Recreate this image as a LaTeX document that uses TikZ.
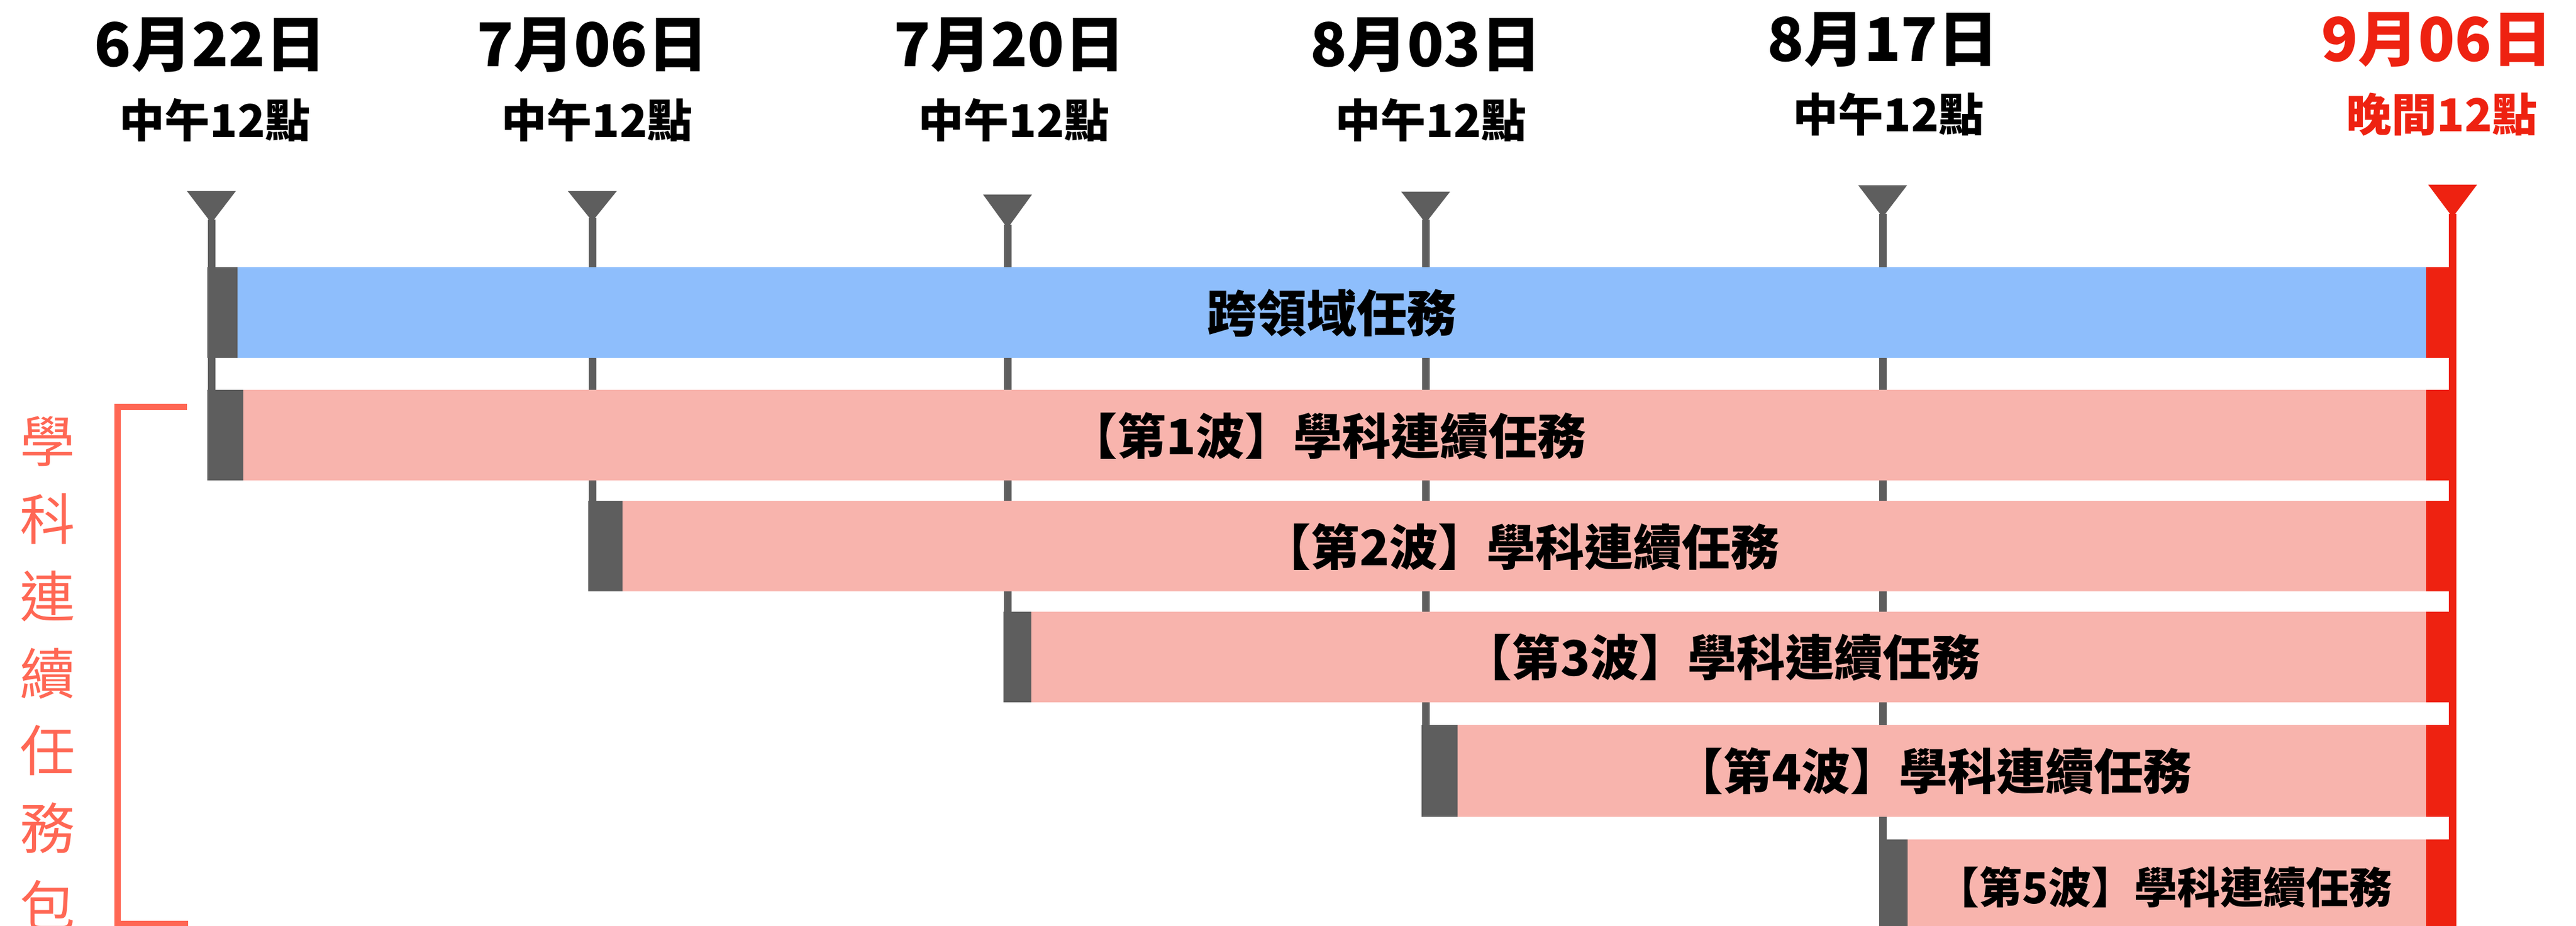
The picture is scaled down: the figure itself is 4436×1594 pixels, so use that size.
\documentclass[tikz,border=0pt]{standalone}
\usepackage{fontspec}
\newfontfamily\cjk{Noto Sans CJK TC}
\definecolor{grayc}{HTML}{5E5E5E}
\definecolor{bluec}{HTML}{8EBEFC}
\definecolor{pinkc}{HTML}{F8B4AD}
\definecolor{redc}{HTML}{EE2211}
\definecolor{coralc}{HTML}{FF6754}
\newcommand\fsz[1]{\fontsize{#1pt}{#1pt}\selectfont}
% tick: center x, triangle top, apex, line end, colour
\newcommand\mytick[5]{%
  \fill[#5] ({#1-42},#2) -- ({#1+42},#2) -- (#1,{#3+4}) -- cycle;
  \fill[#5] ({#1-6.5},{#3-2}) rectangle ({#1+6.5},#4);}
% bar: start x, dark end x, top y, bottom y, fill colour
\newcommand\mybar[5]{%
  \fill[#5] (#2,#3) rectangle (4178,#4);
  \fill[grayc] (#1,#3) rectangle (#2,#4);
  \fill[redc] (4178,#3) rectangle (4230,#4);}
\begin{document}
\begin{tikzpicture}[x=1pt,y=-1pt,
  datelbl/.style={font=\cjk\bfseries\fsz{104}, inner sep=0pt, anchor=center},
  timelbl/.style={font=\cjk\bfseries\fsz{78}, inner sep=0pt, anchor=center},
  barlbl/.style={font=\cjk\bfseries\fsz{84}, inner sep=0pt, anchor=center},
  sidelbl/.style={font=\cjk\fsz{95}, text=coralc, inner sep=0pt, anchor=center}]
\useasboundingbox (0,0) rectangle (4436,1594);
\fill[white] (0,0) rectangle (4436,1594);
\clip (0,0) rectangle (4436,1594);

% date labels
\node[datelbl] (d1) at (362,77) {6月22日};
\node[datelbl] (d2) at (1020,77) {7月06日};
\node[datelbl] (d3) at (1738,77) {7月20日};
\node[datelbl] (d4) at (2455,77) {8月03日};
\node[datelbl] (d5) at (3242,68) {8月17日};
\node[datelbl, text=redc] (d6) at (4196,68) {9月06日};
\node[timelbl] (t1) at (370,207) {中午12點};
\node[timelbl] (t2) at (1028,207) {中午12點};
\node[timelbl] (t3) at (1746,207) {中午12點};
\node[timelbl] (t4) at (2464,207) {中午12點};
\node[timelbl] (t5) at (3252,197) {中午12點};
\node[timelbl, text=redc] (t6) at (4205,197) {晚間12點};

% ticks
\mytick{364}{329}{380}{827}{grayc}
\mytick{1020}{329}{377}{1018}{grayc}
\mytick{1735}{335}{389}{1209}{grayc}
\mytick{2455}{330}{380}{1406}{grayc}
\mytick{3242}{319}{370}{1594}{grayc}
\mytick{4223.5}{318}{370}{1594}{redc}

% bars
\mybar{357}{409}{460}{616}{bluec}
\mybar{357}{419}{671}{827}{pinkc}
\mybar{1013}{1072}{862}{1018}{pinkc}
\mybar{1728}{1776}{1053}{1209}{pinkc}
\mybar{2448}{2510}{1248}{1406}{pinkc}
\mybar{3236}{3285}{1445}{1603}{pinkc}

% bar labels
\node[barlbl, font=\cjk\bfseries\fsz{86}] (b0) at (2293,539) {跨領域任務};
\node[barlbl] (b1) at (2286,750) {【第1波】學科連續任務};
\node[barlbl] (b2) at (2619,941) {【第2波】學科連續任務};
\node[barlbl] (b3) at (2965,1131) {【第3波】學科連續任務};
\node[barlbl] (b4) at (3329,1327) {【第4波】學科連續任務};
\node[barlbl, font=\cjk\bfseries\fsz{74}] (b5) at (3727,1527) {【第5波】學科連續任務};

% side label and bracket
\node[sidelbl] (v1) at (82,760) {學};
\node[sidelbl] (v2) at (82,893) {科};
\node[sidelbl] (v3) at (82,1026) {連};
\node[sidelbl] (v4) at (82,1159) {續};
\node[sidelbl] (v5) at (82,1292) {任};
\node[sidelbl] (v6) at (82,1425) {務};
\node[sidelbl] (v7) at (82,1558) {包};
\draw[coralc, line width=11pt] (322,700.5) -- (202.5,700.5) -- (202.5,1590) -- (324,1590);
\end{tikzpicture}
\end{document}
